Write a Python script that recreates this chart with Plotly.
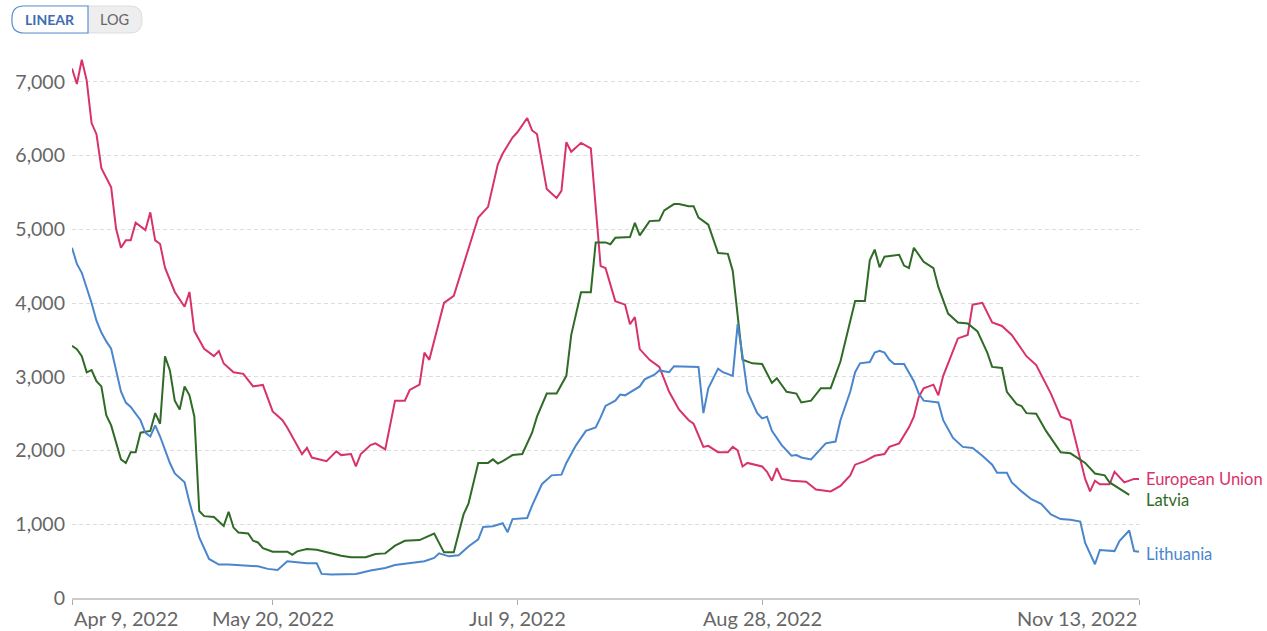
import pandas as pd
import plotly.graph_objects as go

START = "2022-04-09"

eu_days = [0,1,2,3,4,5,6,8,9,10,11,12,13,15,16,17,18,19,21,23,24,25,27,29,30,31,33,35,37,39,41,43,44,47,48,49,52,54,55,57,58,59,61,62,64,66,68,69,71,72,73,76,78,80,83,85,87,88,90,91,93,94,95,97,99,100,101,102,104,106,108,109,111,113,114,115,116,118,120,122,124,126,127,129,130,132,134,135,136,137,138,141,142,143,144,145,147,150,152,155,157,159,160,162,164,166,167,169,171,172,173,174,176,177,178,181,183,184,186,188,190,192,195,197,200,202,204,206,207,208,209,210,212,213,215,217,218]
eu_vals = [7180,6970,7300,7020,6440,6290,5830,5570,5010,4750,4850,4850,5090,4990,5230,4850,4800,4480,4150,3950,4150,3620,3380,3280,3350,3180,3060,3040,2870,2890,2530,2410,2310,1950,2035,1905,1856,1990,1938,1953,1784,1953,2073,2097,2015,2676,2676,2821,2893,3327,3230,4002,4098,4532,5159,5304,5882,6027,6244,6316,6509,6340,6292,5545,5424,5521,6181,6051,6172,6099,4500,4474,4026,3978,3713,3809,3375,3230,3134,2797,2556,2411,2363,2049,2064,1977,1977,2049,2001,1784,1832,1784,1712,1591,1760,1615,1591,1577,1471,1446,1519,1663,1808,1856,1929,1953,2049,2097,2314,2459,2724,2845,2893,2748,3013,3520,3568,3978,4002,3737,3689,3568,3279,3158,2772,2459,2411,1880,1615,1446,1591,1543,1543,1712,1567,1615,1615]

lv_days = [0,1,2,3,4,5,6,7,8,10,11,12,13,14,16,17,18,19,20,21,22,23,24,25,26,27,29,30,31,32,33,34,36,37,38,39,41,44,45,46,48,50,52,55,57,60,62,64,66,68,71,74,76,78,80,81,83,85,86,87,88,90,92,94,95,97,99,101,102,104,106,107,109,110,111,114,115,116,118,120,121,123,124,126,127,128,130,132,134,135,137,139,141,143,144,146,148,149,151,153,155,157,160,162,163,164,165,166,169,170,171,172,174,176,177,179,181,183,185,187,188,190,191,193,194,195,197,199,201,202,204,206,207,209,211,212,215,216]
lv_vals = [3420,3375,3280,3060,3090,2940,2870,2480,2340,1880,1830,1977,1977,2242,2266,2507,2363,3279,3086,2676,2556,2869,2748,2459,1180,1110,1099,1040,978,1170,955,888,874,776,753,677,628,628,587,632,664,655,619,574,552,552,596,605,709,776,785,874,619,619,1134,1278,1832,1832,1880,1823,1856,1938,1953,2242,2459,2772,2772,3013,3568,4147,4147,4822,4822,4798,4884,4894,5087,4918,5111,5120,5256,5342,5342,5313,5313,5159,5063,4677,4667,4436,3230,3182,3173,2917,2980,2797,2772,2652,2676,2845,2845,3206,4026,4026,4580,4725,4484,4629,4653,4508,4474,4749,4560,4474,4219,3857,3737,3722,3616,3327,3134,3120,2797,2628,2604,2507,2498,2266,2073,1977,1962,1880,1832,1688,1663,1567,1446,1398]

lt_days = [0,1,2,3,4,5,6,7,8,9,10,11,12,14,15,16,17,18,20,21,23,24,26,28,30,32,35,38,40,42,44,46,48,50,51,53,58,61,64,66,69,72,74,75,77,79,81,83,84,86,88,89,90,93,94,96,98,100,101,103,105,107,108,109,111,112,113,115,116,117,119,120,122,123,126,128,129,130,132,133,135,136,137,138,140,141,142,143,145,147,148,149,151,152,154,156,157,159,160,161,163,164,165,166,167,168,170,172,173,174,177,178,180,182,184,186,188,189,191,192,194,196,198,200,202,204,206,207,209,210,213,214,216,217,218]
lt_vals = [4750,4530,4410,4220,4000,3760,3600,3480,3380,3090,2800,2650,2590,2410,2240,2190,2340,2190,1830,1690,1570,1300,821,529,453,453,439,430,395,381,498,484,471,471,327,318,327,372,408,448,471,498,543,605,565,580,699,796,964,974,1013,892,1070,1085,1254,1543,1663,1673,1832,2073,2266,2314,2450,2604,2676,2758,2748,2821,2869,2965,3028,3086,3062,3144,3134,3134,2507,2845,3110,3062,3013,3713,3279,2797,2507,2435,2459,2266,2073,1929,1938,1905,1880,1953,2097,2122,2411,2797,3062,3182,3200,3327,3351,3327,3230,3173,3173,2941,2772,2676,2652,2411,2170,2049,2035,1929,1808,1697,1697,1567,1446,1340,1278,1133,1070,1061,1037,747,458,651,636,771,916,636,627]

tick_dates = ["2022-04-09", "2022-05-20", "2022-07-09", "2022-08-28", "2022-11-13"]
tick_labels = ["Apr 9, 2022", "May 20, 2022", "Jul 9, 2022", "Aug 28, 2022", "Nov 13, 2022"]
y_ticks = [0, 1000, 2000, 3000, 4000, 5000, 6000, 7000]

series = [
    ("European Union", eu_days, eu_vals, "#d8326d", 1615),
    ("Latvia", lv_days, lv_vals, "#2f6a26", 1330),
    ("Lithuania", lt_days, lt_vals, "#4a86cc", 597),
]

def to_dates(days):
    return pd.Timestamp(START) + pd.to_timedelta(days, unit="D")

fig = go.Figure()
for name, d, v, col, _ in series:
    assert len(d) == len(v), name
    fig.add_trace(go.Scatter(x=to_dates(d), y=v, mode="lines", name=name,
                             line=dict(color=col, width=2), showlegend=False))

W, H = 1267, 631
PL, PR, PT, PB = 72, 1139, 56, 598   # plot box in page pixels
ML, MT, MR, MB = PL, PT, W - PR, H - PB
PW, PH = PR - PL, PB - PT

def px(x):
    return (x - PL) / PW

def py(y):
    return (PB - y) / PH

def rrect(x0, y0, x1, y1, r, left=True, right=True):
    pts = [f"M{px(x0 + r) if left else px(x0)},{py(y0)}"]
    if right:
        pts += [f"L{px(x1 - r)},{py(y0)}",
                f"Q{px(x1)},{py(y0)} {px(x1)},{py(y0 + r)}",
                f"L{px(x1)},{py(y1 - r)}",
                f"Q{px(x1)},{py(y1)} {px(x1 - r)},{py(y1)}"]
    else:
        pts += [f"L{px(x1)},{py(y0)}", f"L{px(x1)},{py(y1)}"]
    if left:
        pts += [f"L{px(x0 + r)},{py(y1)}",
                f"Q{px(x0)},{py(y1)} {px(x0)},{py(y1 - r)}",
                f"L{px(x0)},{py(y0 + r)}",
                f"Q{px(x0)},{py(y0)} {px(x0 + r)},{py(y0)}"]
    else:
        pts += [f"L{px(x0)},{py(y1)}"]
    pts.append("Z")
    return " ".join(pts)

shapes = [
    dict(type="path", xref="paper", yref="paper", path=rrect(12, 6, 142, 33, 12),
         fillcolor="#eeeeee", line=dict(color="#dddddd", width=1), layer="above"),
    dict(type="path", xref="paper", yref="paper", path=rrect(12, 6, 88, 33, 12, right=False),
         fillcolor="#ffffff", line=dict(color="#5a8fd0", width=1.2), layer="above"),
]

GRAY = "#666666"
annotations = [
    dict(xref="paper", yref="paper", x=px(50), y=py(19.5), text="<b>LINEAR</b>", showarrow=False,
         font=dict(family="Lato", size=14, color="#3e6db4"), xanchor="center", yanchor="middle"),
    dict(xref="paper", yref="paper", x=px(114), y=py(19.5), text="LOG", showarrow=False,
         font=dict(family="Lato", size=14.5, color=GRAY), xanchor="center", yanchor="middle"),
]
n_ticks = len(tick_dates)
for i, (td, tl) in enumerate(zip(tick_dates, tick_labels)):
    anchor = "left" if i == 0 else ("right" if i == n_ticks - 1 else "center")
    annotations.append(dict(xref="x", yref="paper", x=td, y=0, yshift=-6, text=tl, showarrow=False,
                            font=dict(family="Lato", size=20, color=GRAY), xanchor=anchor, yanchor="top"))
for name, _, _, col, ylab in series:
    annotations.append(dict(xref="paper", yref="y", x=1, xshift=5, y=ylab, text=name, showarrow=False,
                            font=dict(family="Lato", size=16.5, color=col), xanchor="left", yanchor="middle"))

fig.update_layout(
    width=W, height=H,
    margin=dict(l=ML, r=MR, t=MT, b=MB, pad=0, autoexpand=False),
    paper_bgcolor="white", plot_bgcolor="white",
    font=dict(family="Lato", size=20, color=GRAY),
    shapes=shapes, annotations=annotations,
    hovermode="x unified",
)
fig.update_xaxes(
    type="date", range=[tick_dates[0], tick_dates[-1]], automargin=False,
    tickvals=tick_dates, ticktext=[""] * n_ticks,
    showgrid=False, showline=True, linecolor="#cccccc", linewidth=1.5,
    ticks="outside", ticklen=5, tickcolor="#aaaaaa",
    zeroline=False,
)
fig.update_yaxes(
    range=[0, 7350], tickvals=y_ticks, automargin=False,
    tickformat=",", showgrid=True, gridcolor="#dddddd", griddash="4px,3px", gridwidth=1,
    zeroline=False, showline=False, ticks="", ticklabelstandoff=6,
    tickfont=dict(family="Lato", size=19.5, color=GRAY),
)

fig.write_html("out.html", config={"displayModeBar": False},
               post_script="document.body.style.margin='0';document.body.style.overflow='hidden';")
